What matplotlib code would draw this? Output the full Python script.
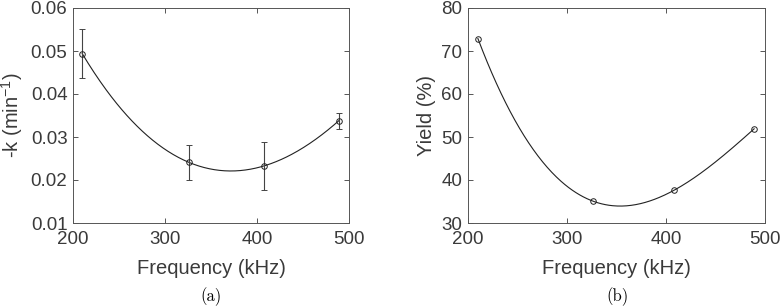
import numpy as np
import matplotlib
matplotlib.use("Agg")
import matplotlib.pyplot as plt

freq = [210, 326, 408, 489]
k_vals = [0.0494, 0.0241, 0.0233, 0.0338]
k_lo = [0.0438, 0.0201, 0.0177, 0.0319]
k_hi = [0.0552, 0.0282, 0.0289, 0.0356]
yield_vals = [72.9, 35.1, 37.6, 51.9]

xticks = [200, 300, 400, 500]
k_ticks = [0.01, 0.02, 0.03, 0.04, 0.05, 0.06]
k_ticklabels = ["0.01", "0.02", "0.03", "0.04", "0.05", "0.06"]
y_ticks = [30, 40, 50, 60, 70, 80]

plt.rcParams['font.family'] = ['Liberation Sans', 'DejaVu Sans']
tc = '#3a3a3a'

fig = plt.figure(figsize=(7.81, 3.08), dpi=100)
W, H = 781, 308
axL = fig.add_axes([73 / W, 1 - 223 / H, (349 - 73) / W, (223 - 8) / H])
axR = fig.add_axes([468 / W, 1 - 223 / H, (765 - 468) / W, (223 - 8) / H])

def fitcurve(x, y):
    c = np.polyfit(x, y, 3)
    xs = np.linspace(min(x), max(x), 300)
    return xs, np.polyval(c, xs)

# left
xs, ys = fitcurve(freq, k_vals)
axL.plot(xs, ys, color='#222222', lw=0.8)
k = np.array(k_vals)
err = [k - np.array(k_lo), np.array(k_hi) - k]
axL.errorbar(freq, k_vals, yerr=err, fmt='o', mfc='none', mec='#222222', ms=4, mew=0.7,
             ecolor='#444444', elinewidth=0.8, capsize=2.5, capthick=0.8)
axL.set_xlim(200, 500)
axL.set_ylim(0.01, 0.06)
axL.set_yticks(k_ticks)
axL.set_yticklabels(k_ticklabels)
axL.set_ylabel('-k (min$^{\\mathregular{-1}}$)', fontsize=14.5, color=tc, labelpad=4)

# right
xs, ys = fitcurve(freq, yield_vals)
axR.plot(xs, ys, color='#222222', lw=0.8)
axR.plot(freq, yield_vals, 'o', mfc='none', mec='#222222', ms=4, mew=0.7)
axR.set_xlim(200, 500)
axR.set_ylim(30, 80)
axR.set_yticks(y_ticks)
axR.set_ylabel('Yield (%)', fontsize=14.5, color=tc, labelpad=4)

for ax in (axL, axR):
    ax.set_xticks(xticks)
    ax.tick_params(direction='in', top=True, right=True, labelsize=13.5, colors=tc,
                   length=3.5, width=0.6)
    ax.tick_params(axis='x', pad=5.5)
    ax.tick_params(axis='y', pad=4)
    ax.set_xlabel('Frequency (kHz)', fontsize=14.5, color=tc, labelpad=8)
    for s in ax.spines.values():
        s.set_color('#555555')
        s.set_linewidth(0.7)

fig.text(211 / W, 1 - 297 / H, '(a)', fontsize=12, family='cmr10', ha='center', va='center')
fig.text(617 / W, 1 - 297 / H, '(b)', fontsize=12, family='cmr10', ha='center', va='center')

fig.savefig('out.png', dpi=100)
